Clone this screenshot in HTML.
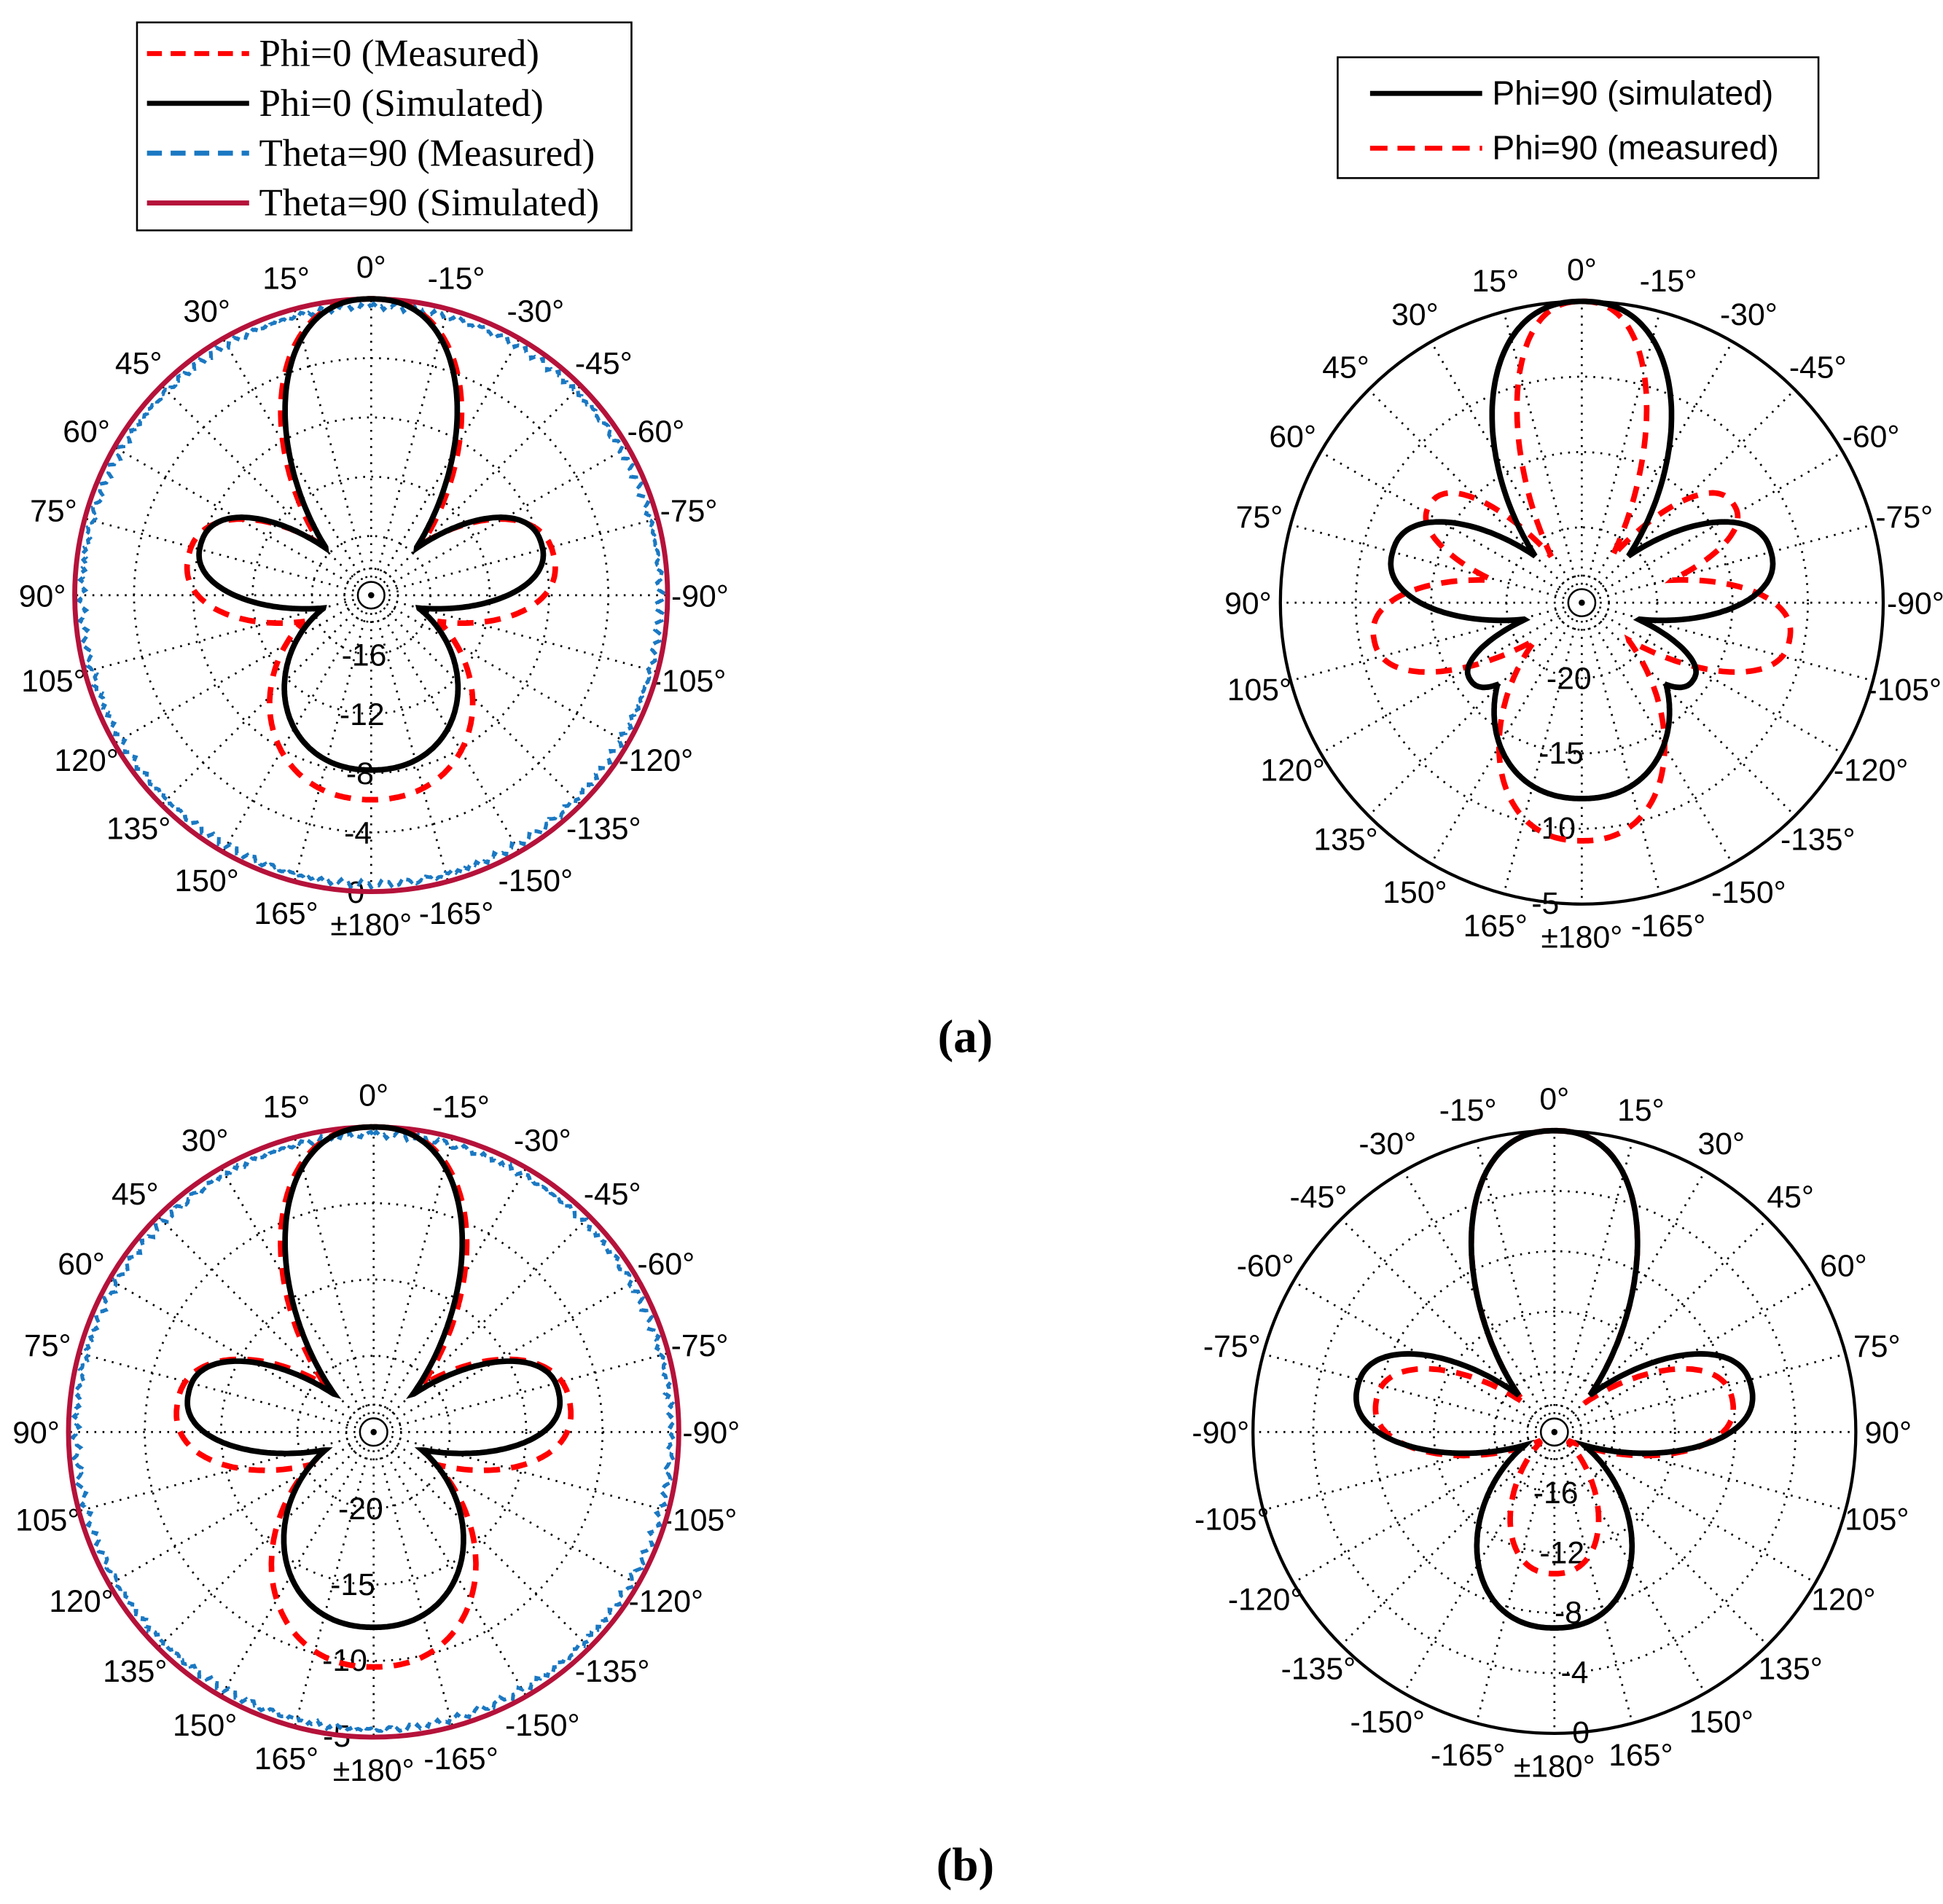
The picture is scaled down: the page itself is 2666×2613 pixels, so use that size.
<!DOCTYPE html>
<html><head><meta charset="utf-8"><style>
html,body{margin:0;padding:0;background:#fff;}
svg{display:block}
</style></head><body>
<svg id="s" width="2666" height="2613" viewBox="0 0 1560 1529" preserveAspectRatio="none" xmlns="http://www.w3.org/2000/svg">
<rect width="1560" height="1529" fill="#fff"/>
<g id="g"></g>
<rect x="110" y="18" width="397" height="167" fill="#fff" stroke="#000" stroke-width="1.5"/>
<g font-family="Liberation Serif, serif" font-size="31" fill="#000">
<line x1="118" y1="43" x2="200" y2="43" stroke="#f00" stroke-width="4" stroke-dasharray="12,7"/>
<text x="208" y="53">Phi=0 (Measured)</text>
<line x1="118" y1="83" x2="200" y2="83" stroke="#000" stroke-width="4"/>
<text x="208" y="93">Phi=0 (Simulated)</text>
<line x1="118" y1="123" x2="200" y2="123" stroke="#1a78c2" stroke-width="4" stroke-dasharray="12,7"/>
<text x="208" y="133">Theta=90 (Measured)</text>
<line x1="118" y1="163" x2="200" y2="163" stroke="#b5123a" stroke-width="4"/>
<text x="208" y="173">Theta=90 (Simulated)</text>
</g>
<rect x="1074" y="46" width="386" height="97" fill="#fff" stroke="#000" stroke-width="1.5"/>
<g font-family="Liberation Sans, sans-serif" font-size="27" fill="#000">
<line x1="1100" y1="75" x2="1190" y2="75" stroke="#000" stroke-width="4"/>
<text x="1198" y="84">Phi=90 (simulated)</text>
<line x1="1100" y1="119" x2="1190" y2="119" stroke="#f00" stroke-width="4" stroke-dasharray="14,8"/>
<text x="1198" y="128">Phi=90 (measured)</text>
</g>
<text x="775" y="845" text-anchor="middle" font-family="Liberation Serif, serif" font-weight="bold" font-size="38">(a)</text>
<text x="775" y="1510" text-anchor="middle" font-family="Liberation Serif, serif" font-weight="bold" font-size="38">(b)</text>
</svg>
<script>
var g=document.getElementById('g');var NS='http://www.w3.org/2000/svg';
function el(t,a,txt){var e=document.createElementNS(NS,t);for(var k in a)e.setAttribute(k,a[k]);if(txt!==undefined)e.textContent=txt;g.appendChild(e);return e;}
function gauss(t,c,w,p){var d=t-c;while(d>180)d-=360;while(d<-180)d+=360;return Math.exp(-Math.pow(Math.abs(d/w),p||2.5));}
function curve(cx,cy,R,lobes,floor,seed){
 var d='';
 for(var i=0;i<=720;i++){var t=i/2;var r=floor;
  for(var j=0;j<lobes.length;j++){var L=lobes[j];r=Math.max(r,L[1]*gauss(t,L[0],L[2],L[3]));}
  if(seed)r+=seed*Math.sin(t*1.7)*Math.sin(t*3.1);
  var a=t*Math.PI/180;var x=cx+R*r*Math.sin(a),y=cy-R*r*Math.cos(a);
  d+=(i?'L':'M')+x.toFixed(1)+' '+y.toFixed(1);}
 return d;}
function sym(list){var o=[];list.forEach(function(l){o.push(l);if(l[0]!==0&&l[0]!==180)o.push([360-l[0],l[1],l[2],l[3]]);});return o;}
function plot(cx,cy,R,rings,rlabels,rlPos,rev,circ,black,red){
 for(var i=0;i<rings-1;i++){el('circle',{cx:cx,cy:cy,r:R*(i+1)/rings,fill:'none',stroke:'#000','stroke-width':1.6,'stroke-dasharray':'1.5,5'});}
 el('circle',{cx:cx,cy:cy,r:R*0.09,fill:'none',stroke:'#000','stroke-width':1.5,'stroke-dasharray':'1.5,3'});
 el('circle',{cx:cx,cy:cy,r:R*0.045,fill:'none',stroke:'#000','stroke-width':1.5});
 el('circle',{cx:cx,cy:cy,r:2.5,fill:'#000'});
 for(var k=0;k<24;k++){var a=k*15*Math.PI/180;
  el('line',{x1:cx+R*0.06*Math.sin(a),y1:cy-R*0.06*Math.cos(a),x2:cx+R*Math.sin(a),y2:cy-R*Math.cos(a),stroke:'#000','stroke-width':1.6,'stroke-dasharray':'1.5,5'});}
 el('circle',{cx:cx,cy:cy,r:R,fill:'none',stroke:'#000','stroke-width':2.5});
 for(var L=-165;L<=180;L+=15){var th=rev?L:-L;var a=th*Math.PI/180;var rr=R+26;
  var x=cx+rr*Math.sin(a),y=cy-rr*Math.cos(a)+9;
  var s=(L==180?'±180':L)+'°';
  el('text',{x:x.toFixed(1),y:y.toFixed(1),'text-anchor':'middle','font-family':'Liberation Sans, sans-serif','font-size':'25',fill:'#000'},s);}
 for(var i=0;i<rlabels.length;i++){var rr=R*(i+1)/rings;var a=rlPos*Math.PI/180;
  el('text',{x:(cx+rr*Math.sin(a)-4).toFixed(1),y:(cy-rr*Math.cos(a)+9).toFixed(1),'text-anchor':'middle','font-family':'Liberation Sans, sans-serif','font-size':'25',fill:'#000'},rlabels[i]);}
 if(circ){
  el('path',{d:curve(cx,cy,R,[[0,0.975,999]],0.975,0.012),fill:'none',stroke:'#1a78c2','stroke-width':3,'stroke-dasharray':'6,5'});
  el('circle',{cx:cx,cy:cy,r:R,fill:'none',stroke:'#b5123a','stroke-width':4});
 }
 el('path',{d:curve(cx,cy,R,sym(red[0]),red[1]),fill:'none',stroke:'#f00','stroke-width':4.5,'stroke-dasharray':'13,9'});
 el('path',{d:curve(cx,cy,R,sym(black[0]),black[1]),fill:'none',stroke:'#000','stroke-width':4.5});
}
plot(298,478,238,5,['-16','-12','-8','-4','0'],182,false,true,
 [[[0,1,37],[73,0.6,29],[180,0.59,68]],0.1],
 [[[0,1,39],[78,0.63,34],[180,0.69,68]],0.12]);
plot(1270,484,242,4,['-20','-15','-10','-5'],186,false,false,
 [[[0,1,38],[75,0.65,29],[180,0.65,60],[125,0.45,20]],0.06],
 [[[0,1,27],[57,0.6,22],[100,0.7,26],[180,0.79,45]],0.04]);
plot(300,1150,245,4,['-20','-15','-10','-5'],186,false,true,
 [[[0,1,37],[78,0.62,29],[180,0.64,62]],0.05],
 [[[0,1,39],[82,0.65,35],[180,0.77,58]],0.06]);
plot(1248,1150,242,5,['-16','-12','-8','-4','0'],174,true,false,
 [[[0,1,35],[77,0.67,29],[180,0.65,52]],0.06],
 [[[0,1,35],[80,0.6,29],[180,0.47,40]],0.06]);
</script>
</body></html>
